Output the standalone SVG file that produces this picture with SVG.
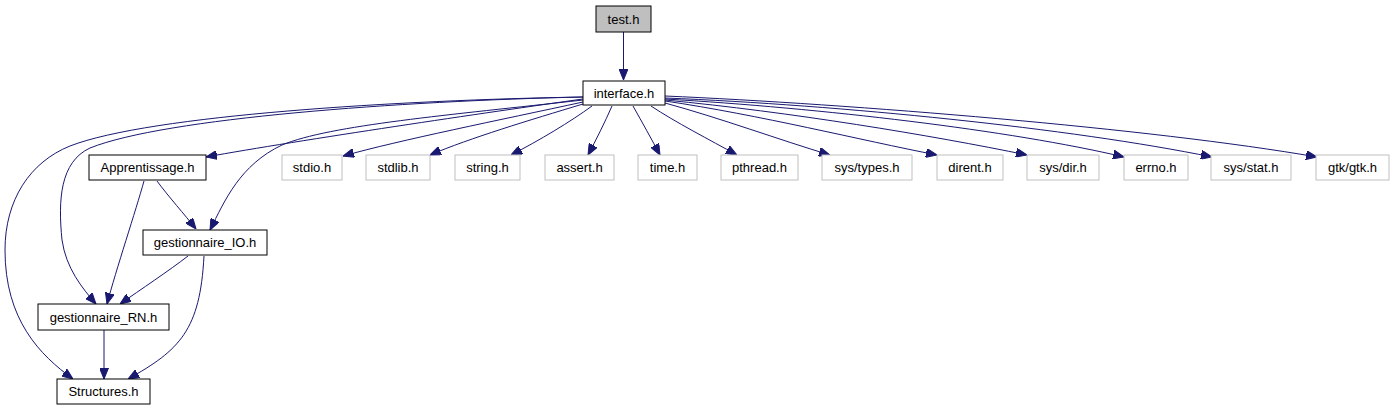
<svg xmlns="http://www.w3.org/2000/svg" width="1395" height="411" viewBox="0 0 1395 411">
<style>
.n rect{fill:#ffffff;stroke:#000000;stroke-width:1}
.n.root rect{fill:#bfbfbf}
.n.sys rect{stroke:#bfbfbf}
.n text{font-family:"Liberation Sans",Arial,sans-serif;font-size:13px;text-anchor:middle;fill:#000000}
.e path{fill:none;stroke:#191970;stroke-width:1;marker-end:url(#ah)}
</style>
<defs>
<marker id="ah" viewBox="0 0 11 9" refX="11" refY="4.5" markerWidth="11" markerHeight="9" markerUnits="userSpaceOnUse" orient="auto">
<path d="M0,0 L11,4.5 L0,9 z" fill="#191970" stroke="#191970" stroke-width="1"/>
</marker>
</defs>
<rect width="1395" height="411" fill="#ffffff"/>
<g id="edges" class="e">
<path d="M623.5,32 L623.5,80"/>
<path d="M583,97 C400,100 150,115 70,146 C30,162 5,200 5,250 C5,320 40,355 73,379"/>
<path d="M583,97 C400,101 165,118 90,148 C60,162 58,200 62,240 C66,268 82,288 96,304"/>
<path d="M583,99 C490,112 300,140 206,157"/>
<path d="M583,100 C450,115 330,125 282,145 C240,165 225,200 210,230"/>
<path d="M583,102 C500,120 400,140 343,156"/>
<path d="M583,104 C530,120 470,138 430,155"/>
<path d="M592,106 C570,122 540,140 511,155"/>
<path d="M612,106 C605,122 596,140 588,155"/>
<path d="M633,106 C642,122 652,140 660,155"/>
<path d="M651,106 C675,122 710,140 737,155"/>
<path d="M665,103 C720,118 780,140 830,155"/>
<path d="M665,101 C760,115 860,140 937,155"/>
<path d="M665,100 C790,112 930,135 1027,155"/>
<path d="M665,99 C820,108 1010,130 1124,157"/>
<path d="M665,98 C840,105 1070,128 1212,157"/>
<path d="M665,96 C850,104 1150,128 1317,157"/>
<path d="M157,181 C168,196 185,215 196,229"/>
<path d="M144,181 C136,210 116,270 107,304"/>
<path d="M188,256 C170,270 140,290 120,304"/>
<path d="M204,256 C200,330 180,350 128,379"/>
<path d="M104,330 L104,379"/>
</g>
<g id="node-test" class="n root"><rect x="596" y="6" width="55" height="26"/><text x="623.5" y="23.5">test.h</text></g>
<g id="node-interface" class="n"><rect x="583" y="81" width="82" height="24"/><text x="624" y="97.5">interface.h</text></g>
<g id="node-apprentissage" class="n"><rect x="89" y="155" width="117" height="25"/><text x="147.5" y="172">Apprentissage.h</text></g>
<g id="node-stdio" class="n sys"><rect x="282" y="155" width="60" height="25"/><text x="312" y="172">stdio.h</text></g>
<g id="node-stdlib" class="n sys"><rect x="366" y="155" width="64" height="25"/><text x="398" y="172">stdlib.h</text></g>
<g id="node-string" class="n sys"><rect x="455" y="155" width="65" height="25"/><text x="487.5" y="172">string.h</text></g>
<g id="node-assert" class="n sys"><rect x="545" y="155" width="69" height="25"/><text x="579.5" y="172">assert.h</text></g>
<g id="node-time" class="n sys"><rect x="638" y="155" width="59" height="25"/><text x="667.5" y="172">time.h</text></g>
<g id="node-pthread" class="n sys"><rect x="721" y="155" width="77" height="25"/><text x="759.5" y="172">pthread.h</text></g>
<g id="node-systypes" class="n sys"><rect x="822" y="155" width="90" height="25"/><text x="867" y="172">sys/types.h</text></g>
<g id="node-dirent" class="n sys"><rect x="937" y="155" width="66" height="25"/><text x="970" y="172">dirent.h</text></g>
<g id="node-sysdir" class="n sys"><rect x="1027" y="155" width="72" height="25"/><text x="1063" y="172">sys/dir.h</text></g>
<g id="node-errno" class="n sys"><rect x="1124" y="155" width="64" height="25"/><text x="1156" y="172">errno.h</text></g>
<g id="node-sysstat" class="n sys"><rect x="1211" y="155" width="80" height="25"/><text x="1251" y="172">sys/stat.h</text></g>
<g id="node-gtk" class="n sys"><rect x="1316" y="155" width="73" height="25"/><text x="1352.5" y="172">gtk/gtk.h</text></g>
<g id="node-gestionnaire-io" class="n"><rect x="143" y="230" width="124" height="25"/><text x="205" y="247">gestionnaire_IO.h</text></g>
<g id="node-gestionnaire-rn" class="n"><rect x="38" y="304" width="131" height="26"/><text x="103.5" y="321.5">gestionnaire_RN.h</text></g>
<g id="node-structures" class="n"><rect x="57" y="379" width="93" height="25"/><text x="103.5" y="396">Structures.h</text></g>
</svg>
